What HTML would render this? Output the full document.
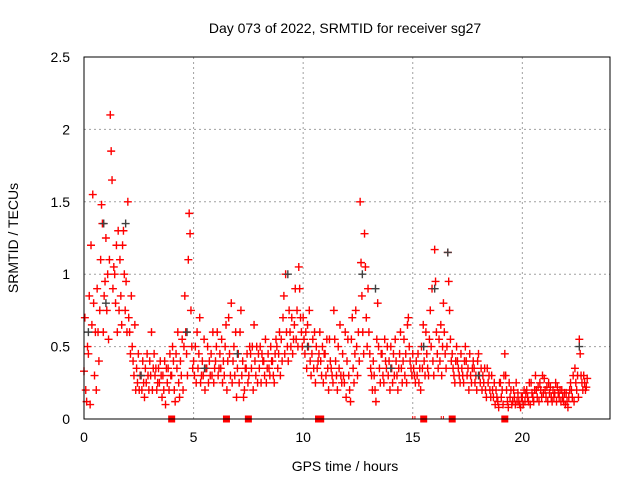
<!DOCTYPE html>
<html><head><meta charset="utf-8"><style>
body{margin:0;background:#fff}
svg{display:block;font-family:"Liberation Sans",sans-serif}
</style></head><body>
<svg id="chart" width="640" height="480" viewBox="0 0 640 480">
<rect width="640" height="480" fill="#fff"/>
<text x="345" y="33" font-size="14" text-anchor="middle">Day 073 of 2022, SRMTID for receiver sg27</text>
<text x="345" y="471" font-size="14" text-anchor="middle">GPS time / hours</text>
<text x="18" y="238" font-size="14" text-anchor="middle" transform="rotate(-90 18 238)">SRMTID / TECUs</text>
<g id="grid"></g><g id="ticks"></g><g id="marks"></g>
<rect x="84" y="57" width="526" height="362" fill="none" stroke="#000" stroke-width="1"/>
</svg>
<script>
const xTicks=[0,5,10,15,20];
const yTicks=[0,0.5,1,1.5,2,2.5];
const yTickLabels=["0","0.5","1","1.5","2","2.5"];
const binStart=0, binWidth=0.2;
const redValues=[
[.33,.7,.2,.12,.5],[.45,.85,.1,1.2,.65],[1.55,.8,.3,.6,.2],[.9,.6,.4,.75,1.1],[1.48,1.35,.6,.85,.95],
[1.25,.75,1.0,.55,1.1],[2.1,1.85,1.65,.9,1.05],[1.0,.8,1.2,.6,1.3],[.75,1.1,.85,.65,1.2],[1.3,1.0,.75,.95,.6],
[1.5,.7,.6,.45,.85],[.5,.4,.3,.65,.2],[.35,.25,.45,.2,.3],[.3,.2,.4,.25,.15],[.35,.25,.45,.3,.2],
[.4,.3,.6,.2,.35],[.45,.3,.35,.2,.25],[.35,.25,.4,.3,.15],[.3,.2,.4,.1,.35],[.25,.35,.2,.45,.3],
[.3,.5,.4,.2,.12],[.45,.35,.6,.25,.15],[.4,.3,.55,.2,.5],[.85,.6,.45,.3,1.1],[1.42,1.28,.75,.5,.35],
[.4,.3,.5,.25,.6],[.35,.45,.7,.25,.3],[.4,.3,.55,.2,.35],[.35,.5,.25,.4,.3],[.45,.3,.6,.25,.35],
[.4,.5,.6,.3,.35],[.45,.35,.55,.25,.4],[.3,.5,.65,.2,.4],[.7,.45,.3,.8,.25],[.4,.5,.3,.6,.15],
[.35,.45,.25,.6,.75],[.3,.4,.15,.2,.35],[.35,.45,.25,.3,.5],[.45,.35,.5,.2,.65],[.4,.3,.5,.25,.45],
[.35,.5,.25,.45,.4],[.4,.3,.55,.25,.35],[.45,.35,.3,.5,.4],[.4,.3,.25,.45,.55],[.5,.35,.45,.6,.3],
[.55,.4,.7,.85,.45],[1.0,.6,.5,.4,.75],[.6,.5,.7,.45,.55],[.65,.9,.55,.75,.5],[1.05,.9,.7,.6,.5],
[.7,.55,.45,.6,.35],[.65,.5,.75,.4,.3],[.45,.55,.35,.6,.25],[.5,.35,.4,.45,.6],[.4,.3,.5,.25,.45],
[.45,.3,.55,.35,.2],[.55,.4,.35,.3,.25],[.75,.55,.4,.3,.2],[.5,.35,.65,.3,.25],[.45,.3,.25,.6,.15],
[.4,.55,.3,.2,.12],[.55,.7,.35,.25,.45],[.75,.5,.3,.6,.4],[1.5,1.08,.85,.6,.45],[1.28,1.05,.7,.5,.9],
[.6,.45,.35,.3,.2],[.4,.3,.2,.12,.55],[.8,.5,.35,.25,.45],[.45,.3,.25,.55,.4],[.35,.5,.3,.4,.2],
[.5,.35,.25,.45,.3],[.55,.4,.3,.2,.35],[.45,.6,.35,.25,.4],[.55,.3,.45,.25,.65],[.7,.5,.4,.35,.3],
[.45,.35,.3,.25,.4],[.3,.45,.25,.35,.2],[.5,.35,.65,.4,.3],[.6,.45,.35,.3,.55],[.75,.5,.9,.4,.3],
[1.17,.95,.6,.45,.35],[.55,.4,.65,.3,.5],[.8,.6,.45,.35,.5],[1.15,.95,.75,.55,.4],[.45,.35,.3,.25,.4],
[.5,.4,.35,.3,.25],[.45,.35,.3,.25,.4],[.5,.4,.3,.35,.2],[.45,.3,.25,.35,.4],[.35,.25,.3,.2,.4],
[.45,.3,.25,.35,.2],[.3,.25,.35,.2,.15],[.35,.25,.3,.2,.15],[.3,.2,.15,.25,.1],[.2,.15,.12,.08,.25],
[.25,.15,.2,.1,.3],[.45,.3,.2,.12,.08],[.25,.15,.2,.1,.12],[.2,.15,.1,.25,.12],[.18,.12,.1,.08,.15],
[.15,.1,.2,.12,.18],[.2,.15,.12,.25,.1],[.25,.18,.15,.12,.2],[.3,.2,.15,.22,.12],[.25,.2,.15,.3,.18],
[.28,.2,.15,.22,.12],[.25,.18,.22,.15,.12],[.2,.15,.18,.25,.12],[.22,.18,.15,.2,.12],[.2,.15,.12,.18,.1],
[.18,.12,.08,.15,.2],[.25,.2,.15,.3,.12],[.35,.25,.2,.3,.15],[.55,.45,.3,.25,.2],[.3,.25,.2,.22,.28]
];
const darkTimes=[0.2,0.9,1.0,1.9,2.6,4.7,5.5,7.0,9.3,10.2,12.7,13.3,14.0,15.5,16.0,16.6,18.0,22.6];
const darkValues=[0.6,1.35,0.8,1.35,0.3,0.6,0.35,0.45,1.0,0.5,1.0,0.9,0.35,0.5,0.9,1.15,0.3,0.5];
const gapTimes=[4.0,6.5,7.5,10.7,10.8,15.5,16.8,19.2];
const gapTickTimes=[15.0,15.1,16.3,16.4];

const X0=84,X1=610,Y0=419,Y1=57,XMAX=24,YMAX=2.5;
const xs=t=>X0+(X1-X0)*t/XMAX;
const ys=v=>Y0-(Y0-Y1)*v/YMAX;
const NS="http://www.w3.org/2000/svg";
function mk(tag,attrs,parent){const e=document.createElementNS(NS,tag);for(const k in attrs)e.setAttribute(k,attrs[k]);parent.appendChild(e);return e;}
const grid=document.getElementById('grid'),ticks=document.getElementById('ticks'),marks=document.getElementById('marks');
xTicks.forEach(t=>{
  const x=xs(t);
  if(t>0){const g=mk('line',{x1:x,x2:x,y1:Y1,y2:Y0,stroke:'#a0a0a0','stroke-dasharray':'2,3'},grid);
  
  }
  const l=mk('text',{x:x,y:442,'font-size':14,'text-anchor':'middle'},ticks);l.textContent=t;
  
  
});
yTicks.forEach((v,i)=>{
  const y=ys(v);
  if(v>0&&v<YMAX){const g=mk('line',{x1:X0,x2:X1,y1:y,y2:y,stroke:'#a0a0a0','stroke-dasharray':'2,3'},grid);
  
  }
  const l=mk('text',{x:70,y:y+5,'font-size':14,'text-anchor':'end'},ticks);l.textContent=yTickLabels[i];
  
  
});
function plus(t,v,col,name){
  const x=xs(t),y=ys(v);
  const p=mk('path',{d:`M${x-4},${y}h8M${x},${y-4}v8`,stroke:col,'stroke-width':1.4,fill:'none'},marks);
  
  
}
redValues.forEach((bin,i)=>{
  bin.forEach((v,k)=>{
    const t=binStart+i*binWidth+k*binWidth/bin.length;
    plus(t,v,'#ff0000','srmtid-point');
  });
});
darkTimes.forEach((t,i)=>plus(t,darkValues[i],'#404040','srmtid-point-alt'));
gapTimes.forEach(t=>{
  const r=mk('rect',{x:xs(t)-3.5,y:Y0-3.5,width:7,height:7,fill:'#ff0000'},marks);
  
  
});
gapTickTimes.forEach(t=>{
  const l=mk('line',{x1:xs(t),x2:xs(t),y1:Y0-3,y2:Y0,stroke:'#ff0000'},marks);
  
  
});
</script>
</body></html>
